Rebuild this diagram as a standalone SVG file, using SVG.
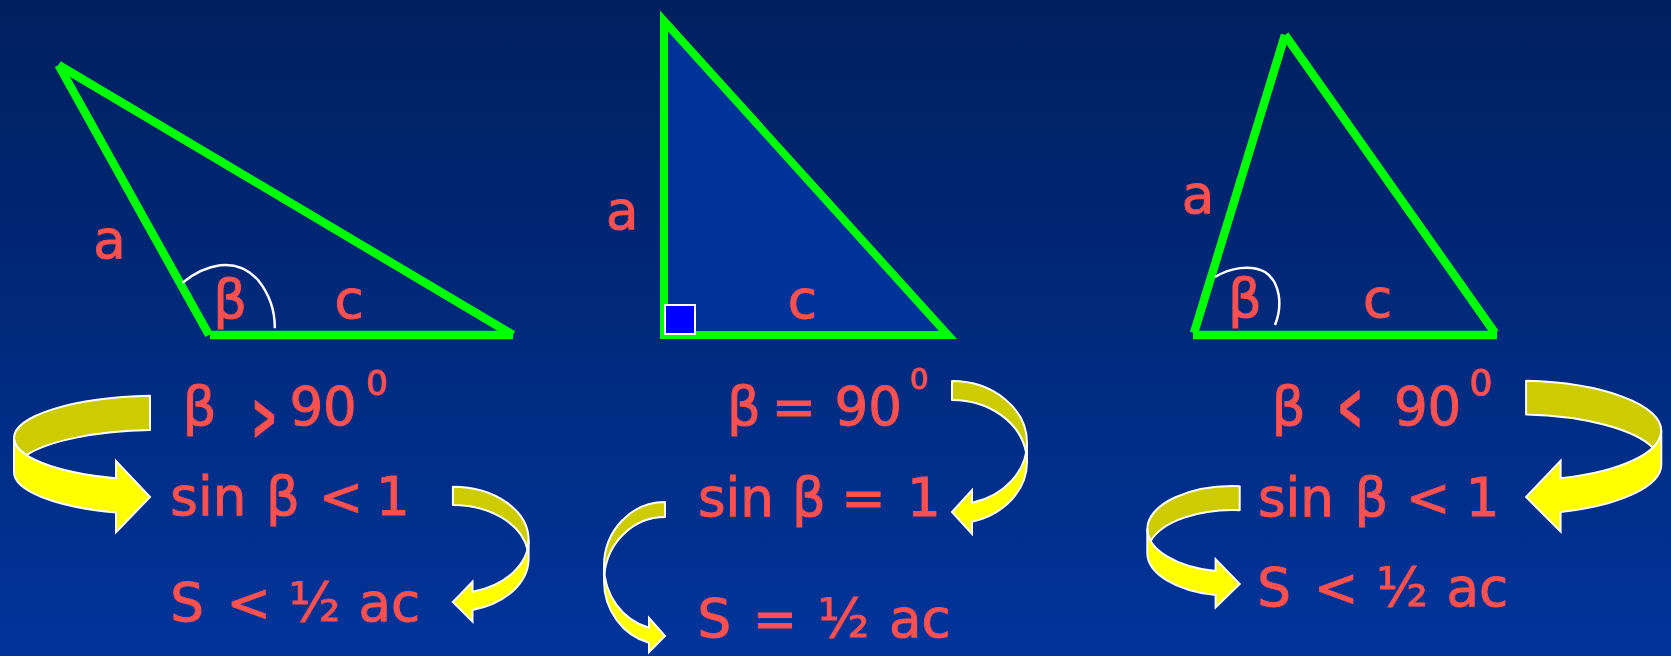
<svg xmlns="http://www.w3.org/2000/svg" width="1671" height="656" viewBox="0 0 1671 656">
<defs>
<linearGradient id="bg" x1="0" y1="0" x2="0" y2="1">
<stop offset="0" stop-color="#001F5E"/>
<stop offset="1" stop-color="#00349A"/>
</linearGradient>
</defs>
<style>
.t{font-family:"DejaVu Sans","Liberation Sans",sans-serif;font-size:53px;fill:#FF5050;stroke:#FF5050;stroke-width:1}
.g{stroke:#00FF00;stroke-width:8.5;fill:none;stroke-linecap:butt}
.arc{stroke:#FFFFFF;stroke-width:2.5;fill:none}
.back{fill:#CCCC00;stroke:#FFFFFF;stroke-width:2;stroke-linejoin:round}
.front{fill:#FFFF00;stroke:#FFFFFF;stroke-width:2;stroke-linejoin:miter}
</style>
<rect width="1671" height="656" fill="url(#bg)"/>

<g id="triangle-obtuse">
<line class="g" x1="58.5" y1="65" x2="209" y2="335"/>
<line class="g" x1="58.5" y1="65" x2="513" y2="335"/>
<line class="g" x1="210" y1="335" x2="513" y2="335"/>
<path class="arc" d="M182.5,282.7 C205,265 235,255 258,280 C270,295 275,312 274.8,328.3"/>
<text class="t" x="93.2" y="258.3">a</text>
<text class="t" x="213.2" y="318.3">β</text>
<text class="t" x="334.6" y="318.3">c</text>
</g>

<g id="triangle-right">
<polygon points="664,21 664,335 948,335" fill="#003399" stroke="#00FF00" stroke-width="8" stroke-linejoin="miter"/>
<rect x="665" y="305" width="30" height="29" fill="#0000FF" stroke="#FFFFFF" stroke-width="2"/>
<text class="t" x="606.1" y="229.3">a</text>
<text class="t" x="787.8" y="318.3">c</text>
</g>

<g id="triangle-acute">
<line class="g" x1="1194" y1="333" x2="1285" y2="35"/>
<line class="g" x1="1285" y1="35" x2="1495" y2="333"/>
<line class="g" x1="1193" y1="335" x2="1497" y2="335"/>
<path class="arc" d="M1215,277 C1230,268 1250,264 1265,272 C1280,282 1283,305 1275,325"/>
<text class="t" x="1181.8" y="213.3">a</text>
<text class="t" x="1227.9" y="316.7">β</text>
<text class="t" x="1363.1" y="316.7">c</text>
</g>

<g id="col1-text">
<text class="t" x="182.7" y="425">β</text>
<text class="t" font-weight="bold" text-anchor="middle" transform="translate(264.3,415.8) scale(0.56,1.22)" y="19">&gt;</text>
<text class="t" x="289.4" y="425">90</text>
<text class="t" x="366.1" y="395" style="font-size:34px">0</text>
<text class="t" y="515"><tspan x="170.3">sin</tspan><tspan x="266">β</tspan><tspan x="318.7">&lt;</tspan><tspan x="376">1</tspan></text>
<text class="t" y="620.5"><tspan x="170.2">S</tspan><tspan x="226.4">&lt;</tspan><tspan x="289">½</tspan><tspan x="358.5">ac</tspan></text>
</g>

<g id="col2-text">
<text class="t" y="425"><tspan x="726.9">β</tspan><tspan x="771.8">=</tspan><tspan x="834.5">90</tspan></text>
<text class="t" x="909.8" y="389.3" style="font-size:29px">0</text>
<text class="t" y="516"><tspan x="698">sin</tspan><tspan x="791.9">β</tspan><tspan x="841.3">=</tspan><tspan x="907">1</tspan></text>
<text class="t" y="636.7"><tspan x="697.5">S</tspan><tspan x="752.7">=</tspan><tspan x="818">½</tspan><tspan x="889">ac</tspan></text>
</g>

<g id="col3-text">
<text class="t" x="1271.8" y="425">β</text>
<text class="t" font-weight="bold" text-anchor="middle" transform="translate(1349.6,405.8) scale(0.56,1.22)" y="19">&lt;</text>
<text class="t" x="1393.9" y="425">90</text>
<text class="t" x="1469.3" y="395" style="font-size:36px">0</text>
<text class="t" y="516"><tspan x="1258">sin</tspan><tspan x="1354.5">β</tspan><tspan x="1406">&lt;</tspan><tspan x="1465.7">1</tspan></text>
<text class="t" y="605.5"><tspan x="1257.3">S</tspan><tspan x="1314">&lt;</tspan><tspan x="1376.5">½</tspan><tspan x="1446.5">ac</tspan></text>
</g>

<g id="connectors">
<path class="back" d="M150,395.8 A146,42.3 0 0 0 14,438 A146,42.3 0 0 0 26.5,455.1 A146,42.3 0 0 1 150,430.1 Z"/>
<path class="front" d="M14,438 A146,42.3 0 0 0 116,478.3 L116,461 L150,497 L116,532.3 L116,512.6 A146,42.3 0 0 1 14,472.3 Z"/>
<path class="back" d="M452.9,486.7 A75.7,53.4 0 0 1 528.6,540.1 A75.7,53.4 0 0 1 527.5,549.2 A75.7,53.4 0 0 0 452.9,505 Z"/>
<path class="front" d="M528.6,540.1 A75.7,53.4 0 0 1 472.5,591.7 L472.5,581.7 L452.9,602 L472.5,621.7 L472.5,610 A75.7,53.4 0 0 0 528.6,558.4 Z"/>
<path class="back" d="M952,381 A75,62 0 0 1 1027,443 A75,62 0 0 1 1026.1,452.5 A75,62 0 0 0 952,400 Z"/>
<path class="front" d="M1027,443 A75,62 0 0 1 972,502.8 L972,490 L952,512 L972,534 L972,521.8 A75,62 0 0 0 1027,462 Z"/>
<path class="back" d="M665,502 A61,64 0 0 0 604,566 A61,64 0 0 0 604.4,573.5 A61,64 0 0 1 665,517 Z"/>
<path class="front" d="M604,566 A61,64 0 0 0 649,627.8 L649,618 L665,636 L649,652 L649,642.8 A61,64 0 0 1 604,581 Z"/>
<path class="back" d="M1526.1,380.8 A145.3,50 0 0 1 1661.3,430.7 A145.3,50 0 0 1 1652.8,447.6 A145.3,50 0 0 0 1526.1,414.5 Z"/>
<path class="front" d="M1661.3,430.7 A145.3,50 0 0 1 1560.6,478.3 L1560.6,460.7 L1526.1,497 L1560.6,531.7 L1560.6,512 A145.3,50 0 0 0 1661.3,464.4 Z"/>
<path class="back" d="M1239.7,486.2 A85.7,43 0 0 0 1147.3,529 A85.7,43 0 0 0 1150.7,541 A85.7,43 0 0 1 1239.7,510.2 Z"/>
<path class="front" d="M1147.3,529 A85.7,43 0 0 0 1215.6,571.1 L1215.6,559.3 L1239.7,584 L1215.6,607.3 L1215.6,595.1 A85.7,43 0 0 1 1147.3,553 Z"/>
</g>
</svg>
